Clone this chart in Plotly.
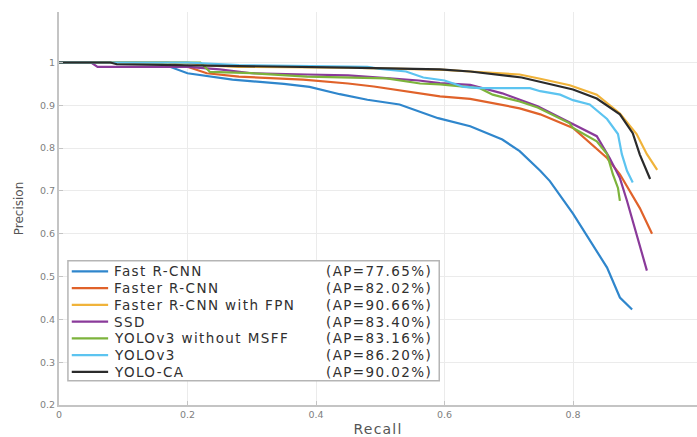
import plotly.graph_objects as go

# Precision-recall curves for seven detectors
NAMES = ["Fast R-CNN", "Faster R-CNN", "Faster R-CNN with FPN", "SSD",
         "YOLOv3 without MSFF", "YOLOv3", "YOLO-CA"]
AP_LABELS = ["(AP=77.65%)", "(AP=82.02%)", "(AP=90.66%)", "(AP=83.40%)",
             "(AP=83.16%)", "(AP=86.20%)", "(AP=90.02%)"]
COLORS = ["#2f86cc", "#e0622a", "#f0b33a", "#8a3a9a", "#7db33c", "#5cc4f0", "#2b2b2b"]

fast_rcnn_recall = [0, 0.12, 0.16, 0.20, 0.27, 0.35, 0.39, 0.437, 0.48, 0.53, 0.59, 0.64,
                    0.69, 0.717, 0.749, 0.764, 0.80, 0.826, 0.853, 0.873, 0.892]
fast_rcnn_prec = [1, 1, 0.997, 0.975, 0.96, 0.95, 0.943, 0.926, 0.913, 0.902, 0.87, 0.851,
                  0.82, 0.793, 0.747, 0.723, 0.647, 0.584, 0.521, 0.451, 0.423]

faster_rcnn_recall = [0, 0.17, 0.20, 0.23, 0.28, 0.38, 0.45, 0.49, 0.593, 0.64, 0.717,
                      0.749, 0.80, 0.853, 0.873, 0.904, 0.923]
faster_rcnn_prec = [1, 1, 0.99, 0.975, 0.967, 0.96, 0.951, 0.944, 0.921, 0.915, 0.893,
                    0.879, 0.847, 0.777, 0.739, 0.66, 0.60]

fpn_recall = [0, 0.20, 0.23, 0.28, 0.45, 0.55, 0.60, 0.64, 0.717, 0.749, 0.795, 0.837,
              0.873, 0.899, 0.915, 0.931]
fpn_prec = [1, 1, 0.993, 0.99, 0.988, 0.985, 0.983, 0.979, 0.972, 0.962, 0.947, 0.925,
            0.881, 0.833, 0.786, 0.749]

ssd_recall = [0, 0.05, 0.06, 0.20, 0.25, 0.30, 0.386, 0.45, 0.515, 0.56, 0.593, 0.64,
              0.69, 0.745, 0.795, 0.837, 0.857, 0.873, 0.884, 0.893, 0.915]
ssd_prec = [1, 1, 0.99, 0.99, 0.984, 0.975, 0.972, 0.97, 0.963, 0.958, 0.952, 0.948,
            0.928, 0.898, 0.86, 0.828, 0.777, 0.73, 0.677, 0.63, 0.514]

no_msff_recall = [0, 0.22, 0.235, 0.30, 0.386, 0.51, 0.562, 0.593, 0.655, 0.675, 0.717,
                  0.745, 0.795, 0.80, 0.837, 0.853, 0.862, 0.870, 0.873]
no_msff_prec = [1, 1, 0.978, 0.975, 0.967, 0.963, 0.951, 0.949, 0.94, 0.925, 0.909,
                0.895, 0.858, 0.847, 0.816, 0.786, 0.739, 0.707, 0.677]

yolov3_recall = [0, 0.20, 0.28, 0.40, 0.48, 0.50, 0.54, 0.567, 0.60, 0.63, 0.655, 0.733,
                 0.749, 0.78, 0.80, 0.826, 0.853, 0.870, 0.876, 0.884, 0.893]
yolov3_prec = [1, 1, 0.994, 0.992, 0.99, 0.985, 0.979, 0.965, 0.958, 0.943, 0.94, 0.94,
               0.933, 0.925, 0.912, 0.902, 0.868, 0.833, 0.786, 0.747, 0.72]

yolo_ca_recall = [0, 0.08, 0.09, 0.20, 0.30, 0.45, 0.593, 0.64, 0.72, 0.75, 0.80, 0.837,
                  0.873, 0.893, 0.904, 0.92]
yolo_ca_prec = [1, 1, 0.996, 0.994, 0.992, 0.988, 0.984, 0.979, 0.965, 0.955, 0.937,
                0.916, 0.879, 0.835, 0.785, 0.728]

RECALLS = [fast_rcnn_recall, faster_rcnn_recall, fpn_recall, ssd_recall,
           no_msff_recall, yolov3_recall, yolo_ca_recall]
PRECISIONS = [fast_rcnn_prec, faster_rcnn_prec, fpn_prec, ssd_prec,
              no_msff_prec, yolov3_prec, yolo_ca_prec]

X_TICKS = [0, 0.2, 0.4, 0.6, 0.8]
X_TICK_TEXT = ["0", "0.2", "0.4", "0.6", "0.8"]
Y_TICKS = [0.2, 0.3, 0.4, 0.5, 0.6, 0.7, 0.8, 0.9, 1.0]
Y_TICK_TEXT = ["0.2", "0.3", "0.4", "0.5", "0.6", "0.7", "0.8", "0.9", "1"]

FONT = "DejaVu Sans"


def spaced(text, px):
    """Wrap text in a span with extra letter spacing."""
    return f'<span style="letter-spacing:{px}px">{text}</span>'


fig = go.Figure()
for name, xs, ys, color in zip(NAMES, RECALLS, PRECISIONS, COLORS):
    fig.add_trace(go.Scatter(x=xs, y=ys, mode="lines", name=name,
                             line=dict(color=color, width=2.2), showlegend=False))

# Boxed legend drawn in plot-area (paper) coordinates
LEG_LEFT, LEG_RIGHT = 0.014, 0.596
LEG_TOP, LEG_BOTTOM = 0.367, 0.062
ROW0, ROW_STEP = 0.340, 0.0426
SAMPLE_X0, SAMPLE_X1 = 0.020, 0.077
NAME_X, AP_X = 0.083, 0.588

shapes = [dict(type="rect", xref="paper", yref="paper",
               x0=LEG_LEFT, x1=LEG_RIGHT, y0=LEG_BOTTOM, y1=LEG_TOP,
               line=dict(color="#b5b5b5", width=1.5), fillcolor="white", layer="above")]
annotations = []
for i, (name, ap, color) in enumerate(zip(NAMES, AP_LABELS, COLORS)):
    yr = ROW0 - i * ROW_STEP
    shapes.append(dict(type="line", xref="paper", yref="paper",
                       x0=SAMPLE_X0, x1=SAMPLE_X1, y0=yr, y1=yr,
                       line=dict(color=color, width=2.2), layer="above"))
    annotations.append(dict(xref="paper", yref="paper", x=NAME_X, y=yr,
                            text=spaced(name, 1.4),
                            showarrow=False, xanchor="left", yanchor="middle",
                            font=dict(family=FONT, size=13.5, color="#303030")))
    annotations.append(dict(xref="paper", yref="paper", x=AP_X, y=yr,
                            text=spaced(ap, 1.4),
                            showarrow=False, xanchor="right", yanchor="middle",
                            font=dict(family=FONT, size=13.5, color="#303030")))

fig.update_layout(
    width=697, height=437,
    margin=dict(l=59, r=0, t=12, b=30),
    paper_bgcolor="white", plot_bgcolor="white",
    font=dict(family=FONT, color="#666666"),
    shapes=shapes, annotations=annotations,
    xaxis=dict(range=[0, 0.993], tickvals=X_TICKS, ticktext=X_TICK_TEXT,
               showgrid=True, gridcolor="#ebebeb", gridwidth=1,
               showline=True, linecolor="#c4c4c4", linewidth=2,
               ticks="inside", ticklen=4, tickcolor="#c4c4c4",
               tickfont=dict(size=9.5, color="#808080"), zeroline=False,
               title=dict(text=spaced("Recall", 1.2), font=dict(size=14, color="#555555"),
                          standoff=7)),
    yaxis=dict(range=[0.2, 1.118], tickvals=Y_TICKS, ticktext=Y_TICK_TEXT,
               showgrid=True, gridcolor="#ebebeb", gridwidth=1,
               showline=True, linecolor="#c4c4c4", linewidth=2,
               ticks="inside", ticklen=4, tickcolor="#c4c4c4",
               tickfont=dict(size=9.5, color="#808080"), zeroline=False,
               title=dict(text="Precision", font=dict(size=12, color="#555555"), standoff=14)),
)

fig.write_html("out.html")
